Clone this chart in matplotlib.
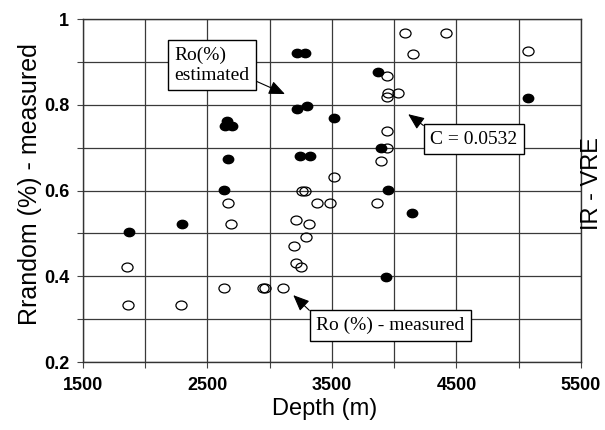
import numpy as np
import matplotlib
matplotlib.use("Agg")
import matplotlib.pyplot as plt
from matplotlib.path import Path
from matplotlib.ticker import MultipleLocator

# Ro (%) estimated  (filled)
est_depth = [1869, 2295, 2632, 2667, 2660, 2640, 2700, 3216, 3283, 3216, 3301,
             3243, 3323, 3518, 3866, 3890, 3947, 4139, 3933, 5076]
est_ro = [0.503, 0.522, 0.601, 0.673, 0.762, 0.750, 0.750, 0.920, 0.920, 0.789, 0.798,
          0.681, 0.681, 0.768, 0.877, 0.700, 0.601, 0.548, 0.399, 0.815]

# Ro (%) measured  (open)
meas_depth = [1851, 1864, 2289, 2632, 2664, 2688, 2948, 2962, 3104, 3197, 3208,
              3248, 3291, 3210, 3312, 3260, 3285, 3381, 3483, 3515, 3858, 3890,
              3939, 3939, 3939, 3952, 4032, 3939, 4086, 4415, 4147, 5076]
meas_ro = [0.422, 0.333, 0.333, 0.372, 0.570, 0.522, 0.372, 0.372, 0.372, 0.471, 0.432,
           0.421, 0.491, 0.531, 0.521, 0.600, 0.600, 0.570, 0.570, 0.632, 0.570, 0.669,
           0.700, 0.739, 0.817, 0.828, 0.828, 0.867, 0.967, 0.967, 0.918, 0.926]

xticks = [1500, 2500, 3500, 4500, 5500]
yticks = [0.2, 0.4, 0.6, 0.8, 1.0]
ytick_labels = ["0.2", "0.4", "0.6", "0.8", "1"]

# slightly flattened circle like the scanned markers
circ = Path.unit_circle()
ell = Path(circ.vertices * np.array([1.0, 0.8]), circ.codes)

fig = plt.figure(figsize=(6.05, 4.30), dpi=100)
ax = fig.add_axes([0.1372, 0.1581, 0.8231, 0.7977])

ax.plot(est_depth, est_ro, linestyle="none", marker=ell, markersize=7.5,
        markerfacecolor="black", markeredgecolor="black", zorder=3)
ax.plot(meas_depth, meas_ro, linestyle="none", marker=ell, markersize=8,
        markerfacecolor="none", markeredgecolor="black", markeredgewidth=0.9, zorder=4)

ax.set_xlim(1500, 5500)
ax.set_ylim(0.2, 1.0)
ax.set_xticks(xticks)
ax.xaxis.set_minor_locator(MultipleLocator(500))
ax.set_yticks(yticks)
ax.set_yticklabels(ytick_labels)
ax.yaxis.set_minor_locator(MultipleLocator(0.1))
ax.grid(True, which="both", color="#3a3a3a", linewidth=0.9)
ax.set_axisbelow(True)
ax.tick_params(which="both", direction="out", length=4, width=0.8, color="#444")
ax.tick_params(axis="x", pad=7)
ax.tick_params(axis="y", pad=6)
for lab in ax.get_xticklabels() + ax.get_yticklabels():
    lab.set_family("Liberation Sans")
    lab.set_fontsize(13)
    lab.set_fontweight("bold")
for s in ax.spines.values():
    s.set_color("#333")
    s.set_linewidth(1.0)

ax.set_xlabel("Depth (m)", family="Liberation Sans", fontsize=17)
ax.xaxis.set_label_coords(0.486, -0.105)
ax.set_ylabel("Rrandom (%) - measured", family="Liberation Sans", fontsize=18)
ax.yaxis.set_label_coords(-0.083, 0.52)
fig.text(0.997, 0.574, "IR - VRE", family="Liberation Sans", fontsize=17,
         rotation=90, ha="right", va="center")

box = dict(boxstyle="square,pad=0.33", facecolor="white", edgecolor="black", linewidth=1)
arr = dict(arrowstyle="-|>,head_length=0.7,head_width=0.3", color="black",
           linewidth=0.8, shrinkA=0, shrinkB=0)

ax.annotate("Ro(%)\nestimated", xy=(3122, 0.825), xytext=(2536, 0.892),
            textcoords="data", ha="center", va="center", multialignment="left",
            family="Liberation Serif", fontsize=14, bbox=box,
            arrowprops=dict(arr, relpos=(1.0, 0.15)), zorder=5)
ax.annotate("C = 0.0532", xy=(4112, 0.778), xytext=(4640, 0.720),
            textcoords="data", ha="center", va="center",
            family="Liberation Serif", fontsize=14, bbox=box,
            arrowprops=dict(arr, relpos=(0.0, 1.0)), zorder=5)
ax.annotate("Ro (%) - measured", xy=(3189, 0.356), xytext=(3969, 0.285),
            textcoords="data", ha="center", va="center",
            family="Liberation Serif", fontsize=14, bbox=box,
            arrowprops=dict(arr, relpos=(0.0, 1.0)), zorder=5)

plt.savefig("out.png", dpi=100)
